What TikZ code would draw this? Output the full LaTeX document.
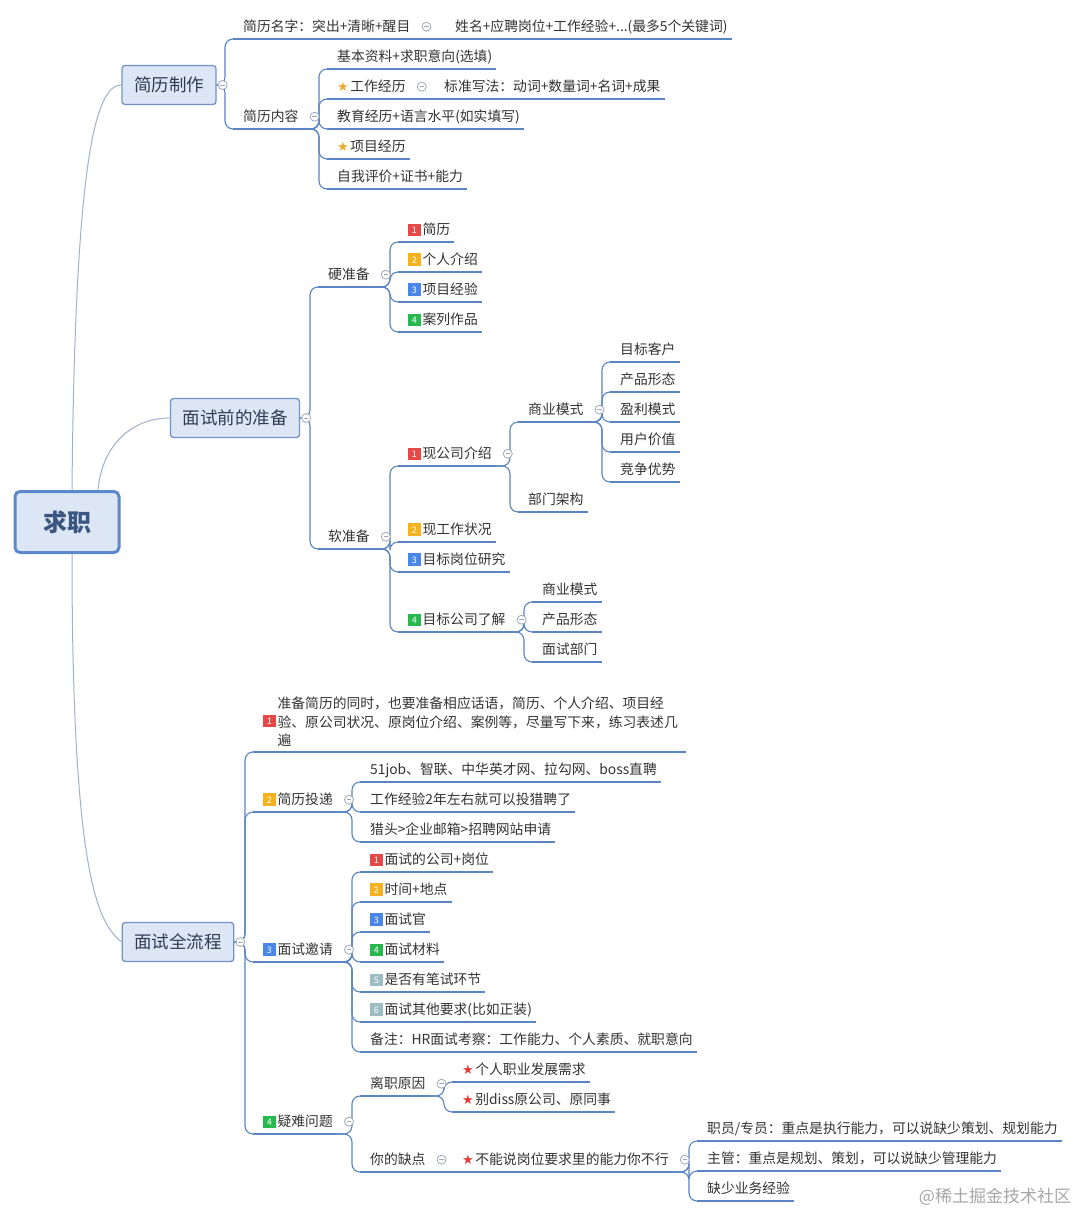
\documentclass[tikz,border=0pt]{standalone}
\usepackage{fontspec}
\setmainfont{Noto Sans CJK SC}
\newfontfamily\symfont{DejaVu Sans}
\usetikzlibrary{calc}

\definecolor{lineblue}{HTML}{5A84C2}
\definecolor{rootlink}{HTML}{A3B0C8}
\definecolor{boxfill}{HTML}{DCE6F4}
\definecolor{boxline}{HTML}{7393C8}
\definecolor{rootline}{HTML}{5C88CC}
\definecolor{roottext}{HTML}{3A5782}
\definecolor{maintext}{HTML}{2F3C52}
\definecolor{txt}{HTML}{333333}
\definecolor{foldc}{HTML}{9EA8B8}
\definecolor{staro}{HTML}{F5A623}
\definecolor{starr}{HTML}{E53935}
\definecolor{b1}{HTML}{E64848}
\definecolor{b2}{HTML}{F5B21F}
\definecolor{b3}{HTML}{4A86E8}
\definecolor{b4}{HTML}{27B84F}
\definecolor{b5}{HTML}{9DBCC4}

\newcommand{\bdg}[2]{\raisebox{1.2pt}{\setlength{\fboxsep}{3.1pt}\colorbox{#1}{\makebox[6.2pt]{\fontsize{9}{9}\selectfont\textcolor{white}{#2}}}}\hspace{2pt}}
\newcommand{\mstar}[1]{{\symfont\fontsize{13}{13}\selectfont\textcolor{#1}{★}}\hspace{1.5pt}}

\begin{document}
\begin{tikzpicture}[
    x=1pt, y=-1pt,
    root/.style={rectangle, draw=rootline, line width=3pt, fill=boxfill, rounded corners=5pt, minimum width=104pt, minimum height=61pt, font=\fontsize{24}{24}\selectfont\bfseries, text=roottext},
    main/.style={rectangle, draw=boxline, line width=1.3pt, fill=boxfill, rounded corners=3pt, minimum height=39pt, inner xsep=12pt, font=\fontsize{17.5}{20}\selectfont, text=maintext},
    uline/.style={draw=lineblue, line width=2.6pt},
    tbase/.style={anchor=south west, xshift=6pt, inner xsep=4pt, inner ysep=5pt, font=\fontsize{13.8}{16}\selectfont, text=txt,
        append after command={([xshift=-6pt]\tikzlastnode.south west) edge[uline] (\tikzlastnode.south east)}},
    topic/.style={tbase, text height=11.7pt, text depth=2.5pt},
    link/.style={draw=lineblue, line width=1.1pt, rounded corners=8pt,
        to path={-- ($(\tikztotarget |- \tikztostart)+(-14pt,0)$) |- (\tikztotarget)}},
    sline/.style={draw=lineblue, line width=1.1pt},
    rootlinkline/.style={draw=rootlink, line width=1pt},
    fold/.style={circle, draw=foldc, fill=white, line width=0.8pt, minimum size=9pt, inner sep=0pt,
        path picture={\draw[foldc, line width=0.8pt] ([xshift=-2.2pt]path picture bounding box.center) -- ([xshift=2.2pt]path picture bounding box.center);}},
    wmark/.style={font=\fontsize{17}{17}\selectfont, text=black!35}
]

    \fill[white] (0,0) rectangle (1080,1215);
    \useasboundingbox (0,0) rectangle (1080,1215);

    % Root and main topics
    \node[root] (job) at (67,522) {求职};
    \node[main] (resume) at (169,85) {简历制作};
    \node[main] (prep) at (235,418) {面试前的准备};
    \node[main] (flow) at (178,942) {面试全流程};

    % Resume making
    \node[topic] (rname) at (233,39) {简历名字：突出+清晰+醒目};
    \node[topic] (rname1) at (445,39) {姓名+应聘岗位+工作经验+...(最多5个关键词)};
    \node[topic] (rcont) at (233,129) {简历内容};
    \node[topic] (rc1) at (327,69) {基本资料+求职意向(选填)};
    \node[topic] (rc2) at (327,99) {\mstar{staro}工作经历};
    \node[topic] (rc2a) at (434,99) {标准写法：动词+数量词+名词+成果};
    \node[topic] (rc3) at (327,129) {教育经历+语言水平(如实填写)};
    \node[topic] (rc4) at (327,159) {\mstar{staro}项目经历};
    \node[topic] (rc5) at (327,189) {自我评价+证书+能力};

    % Preparation: hard
    \node[topic] (hard) at (318,287) {硬准备};
    \node[topic] (h1) at (398,242) {\bdg{b1}{1}简历};
    \node[topic] (h2) at (398,272) {\bdg{b2}{2}个人介绍};
    \node[topic] (h3) at (398,302) {\bdg{b3}{3}项目经验};
    \node[topic] (h4) at (398,332) {\bdg{b4}{4}案列作品};

    % Preparation: soft
    \node[topic] (soft) at (318,549) {软准备};
    \node[topic] (s1) at (398,466) {\bdg{b1}{1}现公司介绍};
    \node[topic] (s1a) at (518,422) {商业模式};
    \node[topic] (s1a1) at (610,362) {目标客户};
    \node[topic] (s1a2) at (610,392) {产品形态};
    \node[topic] (s1a3) at (610,422) {盈利模式};
    \node[topic] (s1a4) at (610,452) {用户价值};
    \node[topic] (s1a5) at (610,482) {竞争优势};
    \node[topic] (s1b) at (518,512) {部门架构};
    \node[topic] (s2) at (398,542) {\bdg{b2}{2}现工作状况};
    \node[topic] (s3) at (398,572) {\bdg{b3}{3}目标岗位研究};
    \node[topic] (s4) at (398,632) {\bdg{b4}{4}目标公司了解};
    \node[topic] (s4a) at (532,602) {商业模式};
    \node[topic] (s4b) at (532,632) {产品形态};
    \node[topic] (s4c) at (532,662) {面试部门};

    % Interview flow
    \node[tbase] (f1) at (253,752) {\bdg{b1}{1}\parbox[c]{404pt}{\fontsize{13.8}{18.5}\selectfont 准备简历的同时，也要准备相应话语，简历、个人介绍、项目经\\验、原公司状况、原岗位介绍、案例等，尽量写下来，练习表述几\\遍}};
    \node[topic] (f2) at (253,812) {\bdg{b2}{2}简历投递};
    \node[topic] (f2a) at (360,782) {51job、智联、中华英才网、拉勾网、boss直聘};
    \node[topic] (f2b) at (360,812) {工作经验2年左右就可以投猎聘了};
    \node[topic] (f2c) at (360,842) {猎头>企业邮箱>招聘网站申请};
    \node[topic] (f3) at (253,962) {\bdg{b3}{3}面试邀请};
    \node[topic] (f3a) at (360,872) {\bdg{b1}{1}面试的公司+岗位};
    \node[topic] (f3b) at (360,902) {\bdg{b2}{2}时间+地点};
    \node[topic] (f3c) at (360,932) {\bdg{b3}{3}面试官};
    \node[topic] (f3d) at (360,962) {\bdg{b4}{4}面试材料};
    \node[topic] (f3e) at (360,992) {\bdg{b5}{5}是否有笔试环节};
    \node[topic] (f3f) at (360,1022) {\bdg{b5}{6}面试其他要求(比如正装)};
    \node[topic] (f3g) at (360,1052) {备注：HR面试考察：工作能力、个人素质、就职意向};
    \node[topic] (f4) at (253,1134) {\bdg{b4}{4}疑难问题};
    \node[topic] (f4a) at (360,1096) {离职原因};
    \node[topic] (f4a1) at (452,1082) {\mstar{starr}个人职业发展需求};
    \node[topic] (f4a2) at (452,1112) {\mstar{starr}别diss原公司、原同事};
    \node[topic] (f4b) at (360,1172) {你的缺点};
    \node[topic] (f4b1) at (452,1172) {\mstar{starr}不能说岗位要求里的能力你不行};
    \node[topic] (f4b1a) at (697,1141) {职员/专员：重点是执行能力，可以说缺少策划、规划能力};
    \node[topic] (f4b1b) at (697,1171) {主管：重点是规划、策划，可以说缺少管理能力};
    \node[topic] (f4b1c) at (697,1201) {缺少业务经验};

    % Watermark
    \node[wmark] (wm) at (995,1197) {@稀土掘金技术社区};

    % Root links
    \draw[rootlinkline] ([xshift=5pt]job.north) .. controls +(3,-330) and +(-26,0) .. (resume.west);
    \draw[rootlinkline] ([xshift=31pt]job.north) .. controls +(4,-45) and +(-38,0) .. (prep.west);
    \draw[rootlinkline] ([xshift=5pt]job.south) .. controls +(0,330) and +(-22,-18) .. (flow.west);

    % Links
    \draw[link] (resume.east) to (rname.south west);
    \draw[link] (resume.east) to (rcont.south west);
    \draw[sline] (rname.south east) -- (rname1.south west);
    \draw[link] (rcont.south east) to (rc1.south west);
    \draw[link] (rcont.south east) to (rc2.south west);
    \draw[link] (rcont.south east) to (rc3.south west);
    \draw[link] (rcont.south east) to (rc4.south west);
    \draw[link] (rcont.south east) to (rc5.south west);
    \draw[sline] (rc2.south east) -- (rc2a.south west);
    \draw[link] (prep.east) to (hard.south west);
    \draw[link] (prep.east) to (soft.south west);
    \draw[link] (hard.south east) to (h1.south west);
    \draw[link] (hard.south east) to (h2.south west);
    \draw[link] (hard.south east) to (h3.south west);
    \draw[link] (hard.south east) to (h4.south west);
    \draw[link] (soft.south east) to (s1.south west);
    \draw[link] (soft.south east) to (s2.south west);
    \draw[link] (soft.south east) to (s3.south west);
    \draw[link] (soft.south east) to (s4.south west);
    \draw[link] (s1.south east) to (s1a.south west);
    \draw[link] (s1.south east) to (s1b.south west);
    \draw[link] (s1a.south east) to (s1a1.south west);
    \draw[link] (s1a.south east) to (s1a2.south west);
    \draw[link] (s1a.south east) to (s1a3.south west);
    \draw[link] (s1a.south east) to (s1a4.south west);
    \draw[link] (s1a.south east) to (s1a5.south west);
    \draw[link] (s4.south east) to (s4a.south west);
    \draw[link] (s4.south east) to (s4b.south west);
    \draw[link] (s4.south east) to (s4c.south west);
    \draw[link] (flow.east) to (f1.south west);
    \draw[link] (flow.east) to (f2.south west);
    \draw[link] (flow.east) to (f3.south west);
    \draw[link] (flow.east) to (f4.south west);
    \draw[link] (f2.south east) to (f2a.south west);
    \draw[link] (f2.south east) to (f2b.south west);
    \draw[link] (f2.south east) to (f2c.south west);
    \draw[link] (f3.south east) to (f3a.south west);
    \draw[link] (f3.south east) to (f3b.south west);
    \draw[link] (f3.south east) to (f3c.south west);
    \draw[link] (f3.south east) to (f3d.south west);
    \draw[link] (f3.south east) to (f3e.south west);
    \draw[link] (f3.south east) to (f3f.south west);
    \draw[link] (f3.south east) to (f3g.south west);
    \draw[link] (f4.south east) to (f4a.south west);
    \draw[link] (f4.south east) to (f4b.south west);
    \draw[link] (f4a.south east) to (f4a1.south west);
    \draw[link] (f4a.south east) to (f4a2.south west);
    \draw[sline] (f4b.south east) -- (f4b1.south west);
    \draw[link] (f4b1.south east) to (f4b1a.south west);
    \draw[link] (f4b1.south east) to (f4b1b.south west);
    \draw[link] (f4b1.south east) to (f4b1c.south west);

    % Fold markers
    \node[fold] (o1) at ([xshift=6pt]resume.east) {};
    \node[fold] (o2) at ([xshift=6pt]prep.east) {};
    \node[fold] (o3) at ([xshift=6pt]flow.east) {};
    \node[fold] (o4) at ([xshift=12pt]rname.east) {};
    \node[fold] (o5) at ([xshift=12pt]rcont.east) {};
    \node[fold] (o6) at ([xshift=12pt]rc2.east) {};
    \node[fold] (o7) at ([xshift=12pt]hard.east) {};
    \node[fold] (o8) at ([xshift=12pt]soft.east) {};
    \node[fold] (o9) at ([xshift=12pt]s1.east) {};
    \node[fold] (o10) at ([xshift=12pt]s1a.east) {};
    \node[fold] (o11) at ([xshift=12pt]s4.east) {};
    \node[fold] (o12) at ([xshift=12pt]f2.east) {};
    \node[fold] (o13) at ([xshift=12pt]f3.east) {};
    \node[fold] (o14) at ([xshift=12pt]f4.east) {};
    \node[fold] (o15) at ([xshift=12pt]f4a.east) {};
    \node[fold] (o16) at ([xshift=12pt]f4b.east) {};
    \node[fold] (o17) at ([xshift=12pt]f4b1.east) {};

\end{tikzpicture}
\end{document}
